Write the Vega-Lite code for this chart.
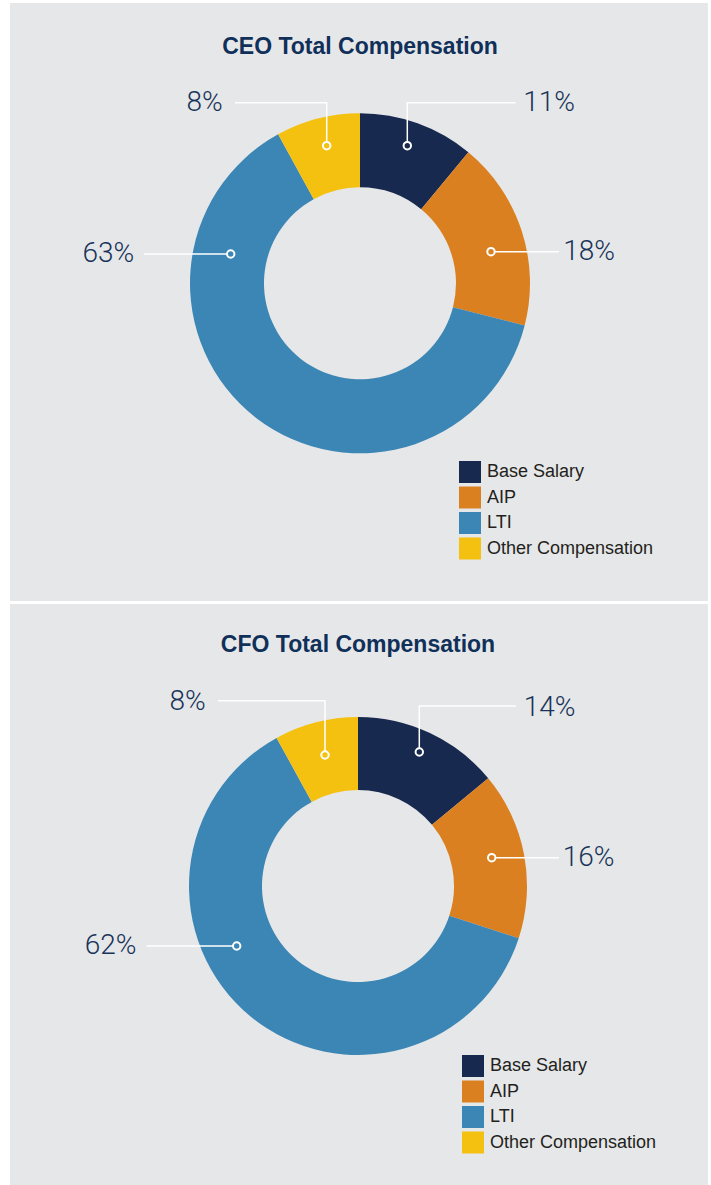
{
  "$schema": "https://vega.github.io/schema/vega-lite/v6.json",
  "background": "#ffffff",
  "padding": {"left": 10, "top": 3, "right": 3, "bottom": 0},
  "spacing": 3,
  "config": {"view": {"stroke": null}},
  "datasets": {
    "ceo_share": [
      {"component": "Base Salary", "share": 11, "rank": 1},
      {"component": "AIP", "share": 18, "rank": 2},
      {"component": "LTI", "share": 63, "rank": 3},
      {"component": "Other Compensation", "share": 8, "rank": 4}
    ],
    "ceo_labels": [
      {"component": "Base Salary", "label": "11%", "dot_x": 47.3, "dot_y": 137.6, "label_x": 189, "label_y": 180.8},
      {"component": "AIP", "label": "18%", "dot_x": 131, "dot_y": 31.6, "label_x": 229, "label_y": 31.3},
      {"component": "LTI", "label": "63%", "dot_x": -129.3, "dot_y": 29.3, "label_x": -251.7, "label_y": 29.3},
      {"component": "Other Compensation", "label": "8%", "dot_x": -33.3, "dot_y": 137.6, "label_x": -155.5, "label_y": 180.8}
    ],
    "ceo_leader": [
      {"component": "Base Salary", "step": 1, "x": 47.3, "y": 137.6},
      {"component": "Base Salary", "step": 2, "x": 47.3, "y": 180.6},
      {"component": "Base Salary", "step": 3, "x": 155.7, "y": 180.6},
      {"component": "AIP", "step": 1, "x": 131, "y": 31.6},
      {"component": "AIP", "step": 2, "x": 199, "y": 31.6},
      {"component": "LTI", "step": 1, "x": -129.3, "y": 29.3},
      {"component": "LTI", "step": 2, "x": -216, "y": 29.3},
      {"component": "Other Compensation", "step": 1, "x": -33.3, "y": 137.6},
      {"component": "Other Compensation", "step": 2, "x": -33.3, "y": 180.6},
      {"component": "Other Compensation", "step": 3, "x": -125, "y": 180.6}
    ],
    "ceo_title": [{"title": "CEO Total Compensation", "x": 0, "y": 236.3}],
    "cfo_share": [
      {"component": "Base Salary", "share": 14, "rank": 1},
      {"component": "AIP", "share": 16, "rank": 2},
      {"component": "LTI", "share": 62, "rank": 3},
      {"component": "Other Compensation", "share": 8, "rank": 4}
    ],
    "cfo_labels": [
      {"component": "Base Salary", "label": "14%", "dot_x": 61.3, "dot_y": 134, "label_x": 191.5, "label_y": 178},
      {"component": "AIP", "label": "16%", "dot_x": 133.7, "dot_y": 28.3, "label_x": 230.5, "label_y": 28},
      {"component": "LTI", "label": "62%", "dot_x": -121.3, "dot_y": -60, "label_x": -247.5, "label_y": -60},
      {"component": "Other Compensation", "label": "8%", "dot_x": -33, "dot_y": 131, "label_x": -170.5, "label_y": 184.3}
    ],
    "cfo_leader": [
      {"component": "Base Salary", "step": 1, "x": 61.3, "y": 134},
      {"component": "Base Salary", "step": 2, "x": 61.3, "y": 180},
      {"component": "Base Salary", "step": 3, "x": 158, "y": 180},
      {"component": "AIP", "step": 1, "x": 133.7, "y": 28.3},
      {"component": "AIP", "step": 2, "x": 201, "y": 28.3},
      {"component": "LTI", "step": 1, "x": -121.3, "y": -60},
      {"component": "LTI", "step": 2, "x": -211.3, "y": -60},
      {"component": "Other Compensation", "step": 1, "x": -33, "y": 131},
      {"component": "Other Compensation", "step": 2, "x": -33, "y": 185.3},
      {"component": "Other Compensation", "step": 3, "x": -140, "y": 185.3}
    ],
    "cfo_title": [{"title": "CFO Total Compensation", "x": 0, "y": 241}]
  },
  "resolve": {"scale": {"color": "independent", "fill": "independent"}, "legend": {"color": "independent"}},
  "vconcat": [
    {
      "width": 698,
      "height": 598,
      "view": {"fill": "#e6e7e8", "stroke": null},
      "layer": [
        {
          "data": {"name": "ceo_share"},
          "mark": {"type": "arc", "innerRadius": 96, "outerRadius": 170, "strokeWidth": 0},
          "encoding": {
            "x": {"datum": 0, "type": "quantitative", "scale": {"domain": [-350, 348], "nice": false, "zero": false}, "axis": null},
            "y": {"datum": 0, "type": "quantitative", "scale": {"domain": [-317.7, 280.3], "nice": false, "zero": false}, "axis": null},
            "theta": {"field": "share", "type": "quantitative", "stack": true},
            "order": {"field": "rank", "type": "quantitative"},
            "color": {
              "field": "component", "type": "nominal",
              "scale": {"domain": ["Base Salary", "AIP", "LTI", "Other Compensation"], "range": ["#18294f", "#db8020", "#3c86b6", "#f4c110"]},
              "legend": {"orient": "none", "legendX": 449, "legendY": 458, "title": null, "symbolType": "square", "symbolSize": 484, "symbolStrokeWidth": 0, "symbolOpacity": 1, "labelFontSize": 18, "labelFont": "Liberation Sans", "labelColor": "#231f20", "labelOffset": 6, "labelLimit": 400, "rowPadding": 3.5, "padding": 0}
            }
          }
        },
        {
          "data": {"name": "ceo_leader"},
          "mark": {"type": "line", "stroke": "#ffffff", "strokeWidth": 1.5},
          "encoding": {
            "x": {"field": "x", "type": "quantitative", "axis": null},
            "y": {"field": "y", "type": "quantitative", "axis": null},
            "detail": {"field": "component"},
            "order": {"field": "step", "type": "quantitative"}
          }
        },
        {
          "data": {"name": "ceo_labels"},
          "mark": {"type": "point", "shape": "circle", "filled": true, "size": 55, "stroke": "#ffffff", "strokeWidth": 2, "opacity": 1},
          "encoding": {
            "x": {"field": "dot_x", "type": "quantitative", "axis": null},
            "y": {"field": "dot_y", "type": "quantitative", "axis": null},
            "fill": {"field": "component", "type": "nominal", "scale": {"domain": ["Base Salary", "AIP", "LTI", "Other Compensation"], "range": ["#18294f", "#db8020", "#3c86b6", "#f4c110"]}, "legend": null}
          }
        },
        {
          "data": {"name": "ceo_labels"},
          "mark": {"type": "text", "font": "Roboto", "fontWeight": 300, "fontSize": 28, "color": "#183359", "align": "center", "baseline": "middle"},
          "encoding": {
            "x": {"field": "label_x", "type": "quantitative", "axis": null},
            "y": {"field": "label_y", "type": "quantitative", "axis": null},
            "text": {"field": "label"}
          }
        },
        {
          "data": {"name": "ceo_title"},
          "mark": {"type": "text", "font": "Liberation Sans", "fontWeight": "bold", "fontSize": 23, "color": "#10305a", "align": "center", "baseline": "middle"},
          "encoding": {
            "x": {"field": "x", "type": "quantitative", "axis": null},
            "y": {"field": "y", "type": "quantitative", "axis": null},
            "text": {"field": "title"}
          }
        }
      ]
    },
    {
      "width": 698,
      "height": 582,
      "view": {"fill": "#e6e7e8", "stroke": null},
      "layer": [
        {
          "data": {"name": "cfo_share"},
          "mark": {"type": "arc", "innerRadius": 96, "outerRadius": 169, "strokeWidth": 0},
          "encoding": {
            "x": {"datum": 0, "type": "quantitative", "scale": {"domain": [-348, 350], "nice": false, "zero": false}, "axis": null},
            "y": {"datum": 0, "type": "quantitative", "scale": {"domain": [-300, 282], "nice": false, "zero": false}, "axis": null},
            "theta": {"field": "share", "type": "quantitative", "stack": true},
            "order": {"field": "rank", "type": "quantitative"},
            "color": {
              "field": "component", "type": "nominal",
              "scale": {"domain": ["Base Salary", "AIP", "LTI", "Other Compensation"], "range": ["#18294f", "#db8020", "#3c86b6", "#f4c110"]},
              "legend": {"orient": "none", "legendX": 452, "legendY": 451, "title": null, "symbolType": "square", "symbolSize": 484, "symbolStrokeWidth": 0, "symbolOpacity": 1, "labelFontSize": 18, "labelFont": "Liberation Sans", "labelColor": "#231f20", "labelOffset": 6, "labelLimit": 400, "rowPadding": 3.5, "padding": 0}
            }
          }
        },
        {
          "data": {"name": "cfo_leader"},
          "mark": {"type": "line", "stroke": "#ffffff", "strokeWidth": 1.5},
          "encoding": {
            "x": {"field": "x", "type": "quantitative", "axis": null},
            "y": {"field": "y", "type": "quantitative", "axis": null},
            "detail": {"field": "component"},
            "order": {"field": "step", "type": "quantitative"}
          }
        },
        {
          "data": {"name": "cfo_labels"},
          "mark": {"type": "point", "shape": "circle", "filled": true, "size": 55, "stroke": "#ffffff", "strokeWidth": 2, "opacity": 1},
          "encoding": {
            "x": {"field": "dot_x", "type": "quantitative", "axis": null},
            "y": {"field": "dot_y", "type": "quantitative", "axis": null},
            "fill": {"field": "component", "type": "nominal", "scale": {"domain": ["Base Salary", "AIP", "LTI", "Other Compensation"], "range": ["#18294f", "#db8020", "#3c86b6", "#f4c110"]}, "legend": null}
          }
        },
        {
          "data": {"name": "cfo_labels"},
          "mark": {"type": "text", "font": "Roboto", "fontWeight": 300, "fontSize": 28, "color": "#183359", "align": "center", "baseline": "middle"},
          "encoding": {
            "x": {"field": "label_x", "type": "quantitative", "axis": null},
            "y": {"field": "label_y", "type": "quantitative", "axis": null},
            "text": {"field": "label"}
          }
        },
        {
          "data": {"name": "cfo_title"},
          "mark": {"type": "text", "font": "Liberation Sans", "fontWeight": "bold", "fontSize": 23, "color": "#10305a", "align": "center", "baseline": "middle"},
          "encoding": {
            "x": {"field": "x", "type": "quantitative", "axis": null},
            "y": {"field": "y", "type": "quantitative", "axis": null},
            "text": {"field": "title"}
          }
        }
      ]
    }
  ]
}
